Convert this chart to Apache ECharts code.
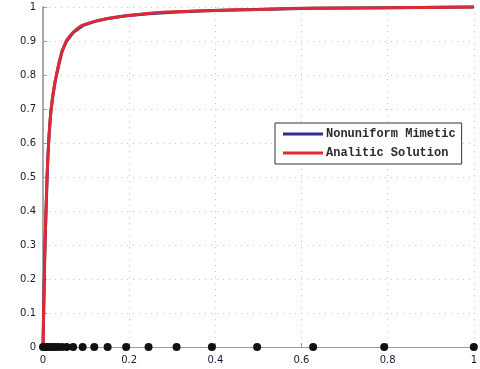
<!DOCTYPE html>
<html>
<head>
<meta charset="utf-8">
<style>
  html, body { margin: 0; padding: 0; background: #fff; }
  #chart { width: 480px; height: 369px; }
</style>
<script src="https://cdn.jsdelivr.net/npm/echarts@6/dist/echarts.min.js"></script>
</head>
<body>
<div id="chart"></div>
<script>
// Nonuniform mesh nodes (clustered near x = 0)
const meshX = [0, 0.004, 0.007, 0.011, 0.014, 0.018, 0.022, 0.028, 0.035, 0.044,
  0.055, 0.070, 0.092, 0.119, 0.150, 0.193, 0.245, 0.310, 0.392, 0.497, 0.627, 0.792, 1];
// Mimetic solution values at the mesh nodes
const mimeticY = [0, 0.27, 0.40, 0.55, 0.62, 0.69, 0.73, 0.78, 0.82, 0.87,
  0.90, 0.925, 0.945, 0.957, 0.966, 0.974, 0.980, 0.985, 0.990, 0.993, 0.996, 0.998, 1];
// Analytic solution sampled along x
const exactX = [0, 0.001, 0.002, 0.003, 0.0047, 0.007, 0.0093, 0.013, 0.016, 0.019,
  0.024, 0.031, 0.040, 0.054, 0.070, 0.090, 0.126, 0.156, 0.200, 0.270, 0.400, 0.500, 0.600, 0.800, 1];
const exactY = [0, 0.07, 0.14, 0.20, 0.30, 0.40, 0.50, 0.60, 0.66, 0.70,
  0.75, 0.80, 0.85, 0.90, 0.925, 0.945, 0.960, 0.967, 0.975, 0.984, 0.990, 0.993, 0.996, 0.998, 1];
const seriesNames = ['Nonuniform Mimetic', 'Analitic Solution'];

const pair = (xs, ys) => xs.map((x, i) => [x, ys[i]]);

const chart = echarts.init(document.getElementById('chart'), null, { renderer: 'canvas' });
chart.setOption({
  animation: false,
  backgroundColor: '#ffffff',
  grid: { left: 43, right: 6, top: 7, bottom: 22, containLabel: false },
  legend: {
    data: seriesNames,
    orient: 'vertical',
    left: 275,
    top: 123,
    icon: 'rect',
    itemWidth: 40,
    itemHeight: 3,
    itemGap: 5,
    padding: [4, 6, 4, 8],
    backgroundColor: '#ffffff',
    borderColor: '#333333',
    borderWidth: 1,
    textStyle: { fontFamily: 'Liberation Mono', fontSize: 12, fontWeight: 'bold', color: '#2a2a2a', lineHeight: 14, padding: [0, 0, 0, -2] }
  },
  xAxis: {
    type: 'value', min: 0, max: 1, interval: 0.2,
    axisLine: { show: true, onZero: false, lineStyle: { color: '#9a9a9a', width: 1 } },
    axisTick: { show: true, inside: true, length: 4, lineStyle: { color: '#9a9a9a' } },
    axisLabel: { color: '#141a33', fontFamily: 'DejaVu Sans', fontSize: 10, margin: 8 },
    splitLine: { show: true, lineStyle: { color: '#c4c4c4', type: [1, 5], width: 1 } }
  },
  yAxis: {
    type: 'value', min: 0, max: 1, interval: 0.1,
    axisLine: { show: true, onZero: false, lineStyle: { color: '#a8a8a8', width: 2 } },
    axisTick: { show: true, inside: true, length: 4, lineStyle: { color: '#9a9a9a' } },
    axisLabel: { color: '#141a33', fontFamily: 'DejaVu Sans', fontSize: 10, margin: 7 },
    splitLine: { show: true, lineStyle: { color: '#c4c4c4', type: [1, 5], width: 1 } }
  },
  series: [
    {
      name: seriesNames[0], type: 'line', data: pair(meshX, mimeticY),
      symbol: 'none', clip: false, z: 3,
      itemStyle: { color: '#2d2f8c' },
      lineStyle: { color: '#2d2f8c', width: 3 }
    },
    {
      name: seriesNames[1], type: 'line', data: pair(exactX, exactY),
      symbol: 'none', smooth: 0.3, clip: false, z: 4,
      itemStyle: { color: '#dd2a35' },
      lineStyle: { color: '#dd2a35', width: 3 }
    },
    {
      name: 'mesh', type: 'scatter', data: meshX.map(x => [x, 0]),
      symbol: 'circle', symbolSize: 8, clip: false, z: 5,
      itemStyle: { color: '#111111', opacity: 1 }
    }
  ]
});
</script>
</body>
</html>
